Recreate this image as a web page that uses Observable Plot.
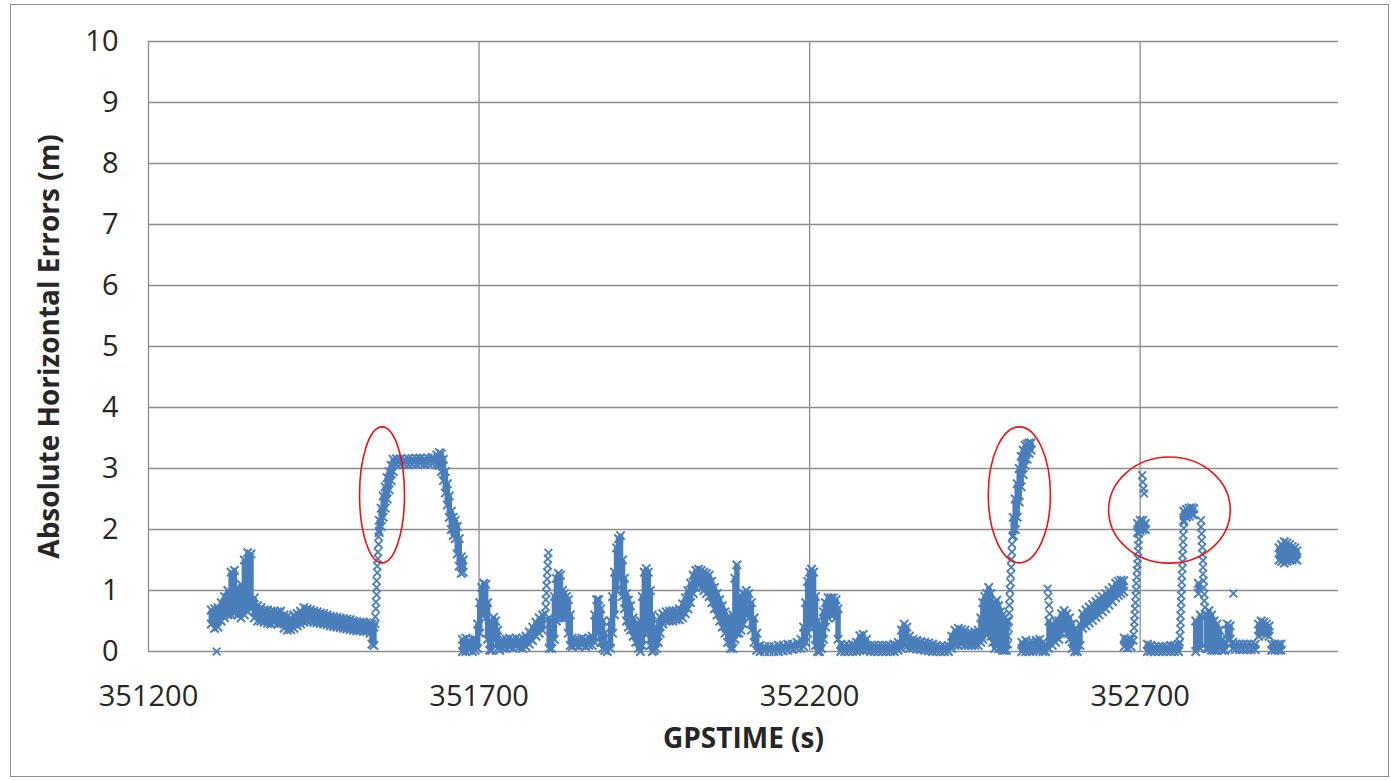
<!DOCTYPE html>
<html>
<head>
<meta charset="utf-8">
<script src="https://cdn.jsdelivr.net/npm/d3@7"></script>
<script src="https://cdn.jsdelivr.net/npm/@observablehq/plot@0.6"></script>
<style>
  html, body { margin: 0; padding: 0; background: #fff; }
  #chart { position: relative; width: 1391px; height: 780px; overflow: hidden; }
  #chart svg { position: absolute; left: 0; top: 0; display: block; }
  #frame { position: absolute; left: 10px; top: 4px; width: 1379px; height: 773px;
           border: 1.5px solid #8c8c8c; box-sizing: border-box; pointer-events: none; }
</style>
</head>
<body>
<div id="chart"><div id="frame"></div></div>
<script>
// Axis ticks
const xTicks = [351200, 351700, 352200, 352700];
const yTicks = [0, 1, 2, 3, 4, 5, 6, 7, 8, 9, 10];
const xTitle = "GPSTIME (s)";
const yTitle = "Absolute Horizontal Errors (m)";

// Dense stretches of the error track: at each GPS epoch, the lowest and
// highest absolute horizontal error (m) of the overlapping markers.
const epochTime = [
  351295, 351300, 351305, 351310, 351315, 351320, 351325, 351330, 351335, 351340,
  351345, 351350, 351355, 351360, 351365, 351370, 351375, 351380, 351385, 351390,
  351395, 351400, 351405, 351410, 351415, 351420, 351425, 351430, 351435, 351440,
  351445, 351450, 351455, 351460, 351465, 351470, 351475, 351480, 351485, 351490,
  351495, 351500, 351505, 351510, 351515, 351520, 351525, 351530, 351535, 351538,
  351541, 351549, 351552, 351555, 351558, 351561, 351564, 351567, 351570, 351575,
  351581, 351587, 351593, 351599, 351605, 351611, 351617, 351623, 351629, 351636,
  351640, 351643, 351646, 351649, 351652, 351655, 351658, 351661, 351664, 351667,
  351670, 351673, 351676, 351675, 351680, 351685, 351690, 351694, 351698, 351701,
  351704, 351707, 351710, 351713, 351716, 351719, 351722, 351725, 351728, 351731,
  351736, 351741, 351746, 351751, 351756, 351761, 351766, 351771, 351776, 351781,
  351786, 351791, 351796, 351806, 351810, 351814, 351817, 351820, 351823, 351826,
  351829, 351832, 351835, 351838, 351841, 351846, 351851, 351856, 351861, 351866,
  351871, 351875, 351878, 351881, 351884, 351887, 351890, 351894, 351899, 351902,
  351905, 351908, 351911, 351914, 351917, 351920, 351923, 351926, 351929, 351933,
  351937, 351941, 351944, 351947, 351950, 351953, 351956, 351959, 351962, 351965,
  351968, 351971, 351974, 351978, 351983, 351988, 351993, 351998, 352003, 352008,
  352012, 352016, 352020, 352024, 352028, 352032, 352036, 352040, 352044, 352048,
  352052, 352056, 352060, 352064, 352068, 352072, 352076, 352080, 352084, 352087,
  352090, 352093, 352096, 352100, 352104, 352108, 352112, 352116, 352120, 352125,
  352132, 352139, 352146, 352153, 352160, 352167, 352174, 352181, 352187, 352191,
  352194, 352197, 352200, 352203, 352206, 352209, 352212, 352215, 352218, 352221,
  352224, 352228, 352232, 352236, 352240, 352243, 352247, 352253, 352259, 352265,
  352271, 352276, 352281, 352286, 352292, 352298, 352304, 352310, 352316, 352322,
  352328, 352334, 352339, 352343, 352347, 352351, 352356, 352362, 352368, 352374,
  352380, 352386, 352392, 352398, 352404, 352410, 352415, 352420, 352425, 352430,
  352435, 352440, 352445, 352450, 352455, 352459, 352462, 352465, 352468, 352471,
  352474, 352477, 352480, 352483, 352486, 352489, 352492, 352495, 352498, 352508,
  352511, 352514, 352517, 352520, 352523, 352526, 352529, 352532, 352535, 352521,
  352527, 352533, 352538, 352543, 352548, 352553, 352557, 352562, 352567, 352572,
  352577, 352581, 352585, 352589, 352593, 352597, 352601, 352605, 352609, 352613,
  352618, 352623, 352628, 352633, 352638, 352643, 352648, 352653, 352658, 352663,
  352667, 352671, 352675, 352676, 352681, 352686, 352696, 352700, 352704, 352708,
  352711, 352716, 352722, 352728, 352734, 352740, 352746, 352752, 352758, 352766,
  352770, 352774, 352778, 352781, 352784, 352788, 352791, 352800, 352804, 352808,
  352812, 352816, 352820, 352824, 352828, 352832, 352836, 352840, 352844, 352850,
  352856, 352862, 352868, 352874, 352879, 352883, 352887, 352891, 352895, 352899,
  352904, 352909, 352913, 352910, 352914, 352918, 352922, 352926, 352930, 352934,
  352937
];
const errorLow = [
  .45, .38, .40, .50, .55, .60, .60, .62, .60, .55,
  .60, .65, .70, .55, .50, .50, .48, .46, .45, .47,
  .45, .46, .38, .35, .36, .38, .42, .45, .48, .50,
  .50, .48, .47, .46, .45, .44, .42, .41, .40, .39,
  .38, .37, .36, .35, .34, .34, .33, .33, .30, .12,
  .10, 1.95, 2.05, 2.20, 2.35, 2.50, 2.65, 2.80, 2.95, 3.06,
  3.07, 3.07, 3.06, 3.07, 3.07, 3.08, 3.07, 3.08, 3.08, 3.06,
  3.05, 2.95, 2.80, 2.60, 2.40, 2.20, 2.00, 1.90, 1.85, 1.60,
  1.40, 1.28, 1.30, 0, 0, .02, 0, .02, .05, .30,
  .60, .80, .55, .20, .02, .02, .20, .25, .05, .02,
  .05, .05, .07, .05, .08, .07, .05, .08, .12, .18,
  .25, .30, .35, .05, .05, .20, .50, .60, .60, .55,
  .55, .55, .30, .10, .08, .10, .08, .10, .08, .10,
  .10, .15, .30, .35, .15, .05, .02, 0, .05, .30,
  .60, 1.00, 1.30, 1.20, .90, .70, .50, .40, .35, .25,
  .15, .05, 0, .10, .30, .50, .30, .10, 0, .02,
  .05, .15, .30, .45, .50, .50, .50, .52, .52, .55,
  .62, .70, .80, .95, 1.05, 1.08, 1.05, 1.00, .95, .90,
  .80, .70, .60, .50, .40, .30, .15, .05, .05, .20,
  .30, .30, .35, .45, .60, .55, .35, .15, .02, 0,
  0, 0, 0, 0, .01, .02, .03, .05, .05, .08,
  .15, .30, .40, .50, .40, .10, 0, 0, .05, .20,
  .40, .55, .60, .60, .55, .20, 0, 0, 0, 0,
  0, .02, .02, .02, 0, 0, 0, 0, 0, 0,
  0, .02, .05, .10, .08, .05, .05, .04, .03, .02,
  .01, 0, 0, 0, 0, 0, .05, .10, .10, .12,
  .10, .10, .10, .10, .10, .15, .20, .30, .35, .30,
  .25, .15, .05, .10, .05, .05, .02, .02, .02, 1.90,
  2.00, 2.20, 2.45, 2.70, 2.90, 3.05, 3.15, 3.25, 3.30, 0,
  0, 0, 0, .02, .02, 0, 0, .05, .10, .15,
  .20, .30, .35, .30, .20, .05, 0, 0, .10, .38,
  .42, .47, .51, .56, .60, .65, .70, .76, .82, .88,
  .92, .95, .98, .08, .06, .08, 1.95, 1.98, 2.00, 2.00,
  0, 0, 0, 0, 0, 0, 0, 0, 0, 2.15,
  2.20, 2.22, 2.25, 2.24, 0, .95, .05, .05, .05, .02,
  .02, .02, .05, .02, .02, .20, .20, .05, .03, .03,
  .03, .03, .03, .03, .25, .30, .30, .28, .25, .02,
  .02, .02, .02, 1.50, 1.48, 1.45, 1.48, 1.50, 1.50, 1.52,
  1.50
];
const errorHigh = [
  .68, .70, .72, .80, .90, 1.00, 1.30, 1.33, 1.05, 1.10,
  1.50, 1.62, 1.60, .88, .75, .72, .68, .68, .66, .66,
  .65, .66, .60, .58, .55, .60, .62, .66, .72, .70,
  .68, .66, .65, .63, .62, .60, .58, .57, .56, .55,
  .54, .53, .52, .50, .49, .48, .48, .47, .47, .45,
  .40, 2.15, 2.35, 2.55, 2.70, 2.85, 2.95, 3.05, 3.15, 3.16,
  3.16, 3.15, 3.16, 3.16, 3.17, 3.17, 3.16, 3.17, 3.18, 3.22,
  3.26, 3.24, 3.15, 2.95, 2.75, 2.55, 2.30, 2.20, 2.15, 2.05,
  1.85, 1.55, 1.50, .20, .22, .18, .20, .20, .45, .80,
  1.05, 1.12, 1.10, .80, .45, .30, .56, .50, .35, .15,
  .20, .20, .22, .20, .22, .20, .22, .25, .32, .40,
  .48, .55, .60, .55, .40, .90, 1.20, 1.28, 1.25, 1.00,
  .95, .90, .85, .60, .22, .20, .20, .22, .20, .22,
  .25, .60, .85, .85, .70, .50, .30, .15, .50, .90,
  1.30, 1.70, 1.85, 1.90, 1.50, 1.20, .95, .84, .75, .55,
  .45, .35, .50, .90, 1.30, 1.36, 1.30, 1.00, .60, .30,
  .35, .45, .56, .62, .65, .66, .67, .67, .70, .78,
  .88, 1.00, 1.12, 1.25, 1.33, 1.35, 1.33, 1.30, 1.28, 1.25,
  1.15, 1.05, .95, .85, .75, .65, .55, .45, .60, 1.20,
  1.42, .90, .60, .95, 1.00, .95, .80, .55, .30, .10,
  .08, .08, .08, .10, .10, .12, .12, .15, .20, .40,
  .80, 1.15, 1.30, 1.35, 1.30, .90, .50, .20, .40, .65,
  .80, .88, .88, .88, .85, .70, .12, .10, .10, .12,
  .15, .26, .28, .20, .10, .10, .10, .10, .10, .10,
  .12, .15, .35, .45, .40, .25, .20, .18, .16, .15,
  .14, .12, .10, .08, .08, .10, .25, .35, .38, .36,
  .35, .30, .30, .32, .35, .55, .80, .90, .95, 1.05,
  .95, .75, .80, .84, .75, .65, .60, .55, .50, 2.20,
  2.50, 2.75, 3.00, 3.20, 3.30, 3.38, 3.40, 3.42, 3.42, .15,
  .18, .15, .15, .18, .20, .15, .12, .50, .45, .50,
  .50, .62, .67, .62, .55, .45, .35, .30, .45, .62,
  .68, .73, .77, .82, .86, .90, .95, 1.00, 1.05, 1.12,
  1.15, 1.17, 1.16, .22, .20, .20, 2.10, 2.15, 2.15, 2.10,
  .12, .10, .08, .08, .08, .08, .10, .10, .12, 2.30,
  2.33, 2.35, 2.36, 2.34, .50, 1.12, .60, .60, .67, .60,
  .50, .45, .35, .20, .15, .45, .42, .15, .12, .12,
  .12, .12, .12, .12, .45, .50, .48, .45, .42, .12,
  .12, .12, .12, 1.70, 1.75, 1.80, 1.78, 1.75, 1.72, 1.70,
  1.65
];

// Isolated markers: fast climbs and drops where single epochs stand apart.
const scatterTime = [
  351303,
  351543, 351543, 351544, 351544, 351545, 351545, 351545, 351546, 351546, 351547, 351547, 351548, 351548, 351549,
  351800, 351801, 351801, 351802, 351802, 351803, 351803, 351804, 351804, 351805,
  352500, 352500, 352501, 352501, 352502, 352502, 352503, 352503, 352504, 352504, 352505, 352505, 352506, 352506, 352507,
  352560, 352561, 352562, 352563,
  352690, 352690, 352691, 352691, 352692, 352692, 352693, 352693, 352694, 352694, 352695, 352695, 352696, 352696, 352697, 352697, 352698, 352698,
  352703, 352704, 352705, 352706,
  352760, 352760, 352761, 352761, 352761, 352762, 352762, 352762, 352763, 352763, 352763, 352764, 352764, 352764, 352765, 352765, 352765, 352766, 352766,
  352792, 352792, 352793, 352793, 352794, 352794, 352795, 352795, 352795, 352796, 352796, 352797, 352797, 352798, 352798,
  352841
];
const scatterError = [
  0.00,
  0.45, 0.57, 0.70, 0.81, 0.93, 1.05, 1.16, 1.29, 1.40, 1.52, 1.63, 1.76, 1.88, 1.98,
  0.62, 0.73, 0.85, 0.96, 1.08, 1.19, 1.30, 1.41, 1.52, 1.62,
  0.12, 0.25, 0.38, 0.50, 0.63, 0.76, 0.88, 1.01, 1.13, 1.26, 1.38, 1.51, 1.63, 1.76, 1.88,
  1.03, 0.90, 0.76, 0.62,
  0.18, 0.28, 0.39, 0.49, 0.60, 0.70, 0.80, 0.91, 1.01, 1.12, 1.22, 1.33, 1.43, 1.53, 1.64, 1.74, 1.84, 1.93,
  2.89, 2.78, 2.67, 2.59,
  0.15, 0.26, 0.37, 0.48, 0.59, 0.70, 0.81, 0.92, 1.03, 1.14, 1.25, 1.36, 1.47, 1.58, 1.69, 1.80, 1.91, 2.02, 2.12,
  2.15, 2.04, 1.93, 1.82, 1.71, 1.60, 1.49, 1.38, 1.27, 1.16, 1.05, 0.94, 0.83, 0.72, 0.61,
  0.95
];

// Red rings highlighting the error jumps: centre (s, m) and half extents (s, m)
const ringTime = [351554, 352518, 352745];
const ringError = [2.56, 2.56, 2.31];
const ringHalfSpan = [34, 47, 92];
const ringHalfRise = [1.115, 1.115, 0.87];

const seriesBlue = "#4A7EBB";
const gridGray = "#8c8c8c";
const ringRed = "#e8141b";
const textColor = "#262626";

const band = epochTime.map((t, i) => ({t, lo: errorLow[i], hi: errorHigh[i]}));
const bandEdges = band.flatMap(d => [{t: d.t, v: d.lo}, {t: d.t, v: d.hi}]);
const loose = scatterTime.map((t, i) => ({t, v: scatterError[i]}));

const chart = Plot.plot({
  width: 1391,
  height: 780,
  marginLeft: 148,
  marginRight: 53,
  marginTop: 41,
  marginBottom: 129,
  style: {
    fontFamily: "'Open Sans', sans-serif",
    fontSize: "29px",
    color: textColor,
    background: "transparent",
    overflow: "visible"
  },
  x: {domain: [351200, 353000], ticks: xTicks, tickSize: 0, tickPadding: 34,
      tickFormat: d => String(d), label: null},
  y: {domain: [0, 10], ticks: yTicks, tickSize: 0, tickPadding: 30,
      tickFormat: d => String(d), label: null},
  marks: [
    Plot.ruleY(yTicks, {stroke: gridGray, strokeWidth: 1.3}),
    Plot.ruleX(xTicks, {stroke: gridGray, strokeWidth: 1.3}),
    Plot.ruleX(band, {x: "t", y1: "lo", y2: "hi", stroke: seriesBlue, strokeWidth: 5.5}),
    Plot.dot(bandEdges, {x: "t", y: "v", symbol: "times", r: 3.9, stroke: seriesBlue, strokeWidth: 2}),
    Plot.dot(loose, {x: "t", y: "v", symbol: "times", r: 3.6, stroke: seriesBlue, strokeWidth: 1.8}),
    Plot.text([yTitle], {text: d => d, frameAnchor: "left", dx: -98, rotate: -90,
      textAnchor: "middle", fontWeight: "bold", fontSize: 28, fill: textColor}),
    Plot.text([xTitle], {text: d => d, frameAnchor: "bottom", dy: 96,
      textAnchor: "middle", fontWeight: "bold", fontSize: 28, fill: textColor})
  ]
});

// Annotation rings, placed through the chart's own scales
const sx = chart.scale("x");
const sy = chart.scale("y");
const rings = d3.select(chart).append("g")
  .attr("fill", "none")
  .attr("stroke", ringRed)
  .attr("stroke-width", 1.6);
ringTime.forEach((t, i) => {
  const cx = sx.apply(t);
  const cy = sy.apply(ringError[i]);
  rings.append("ellipse")
    .attr("cx", cx)
    .attr("cy", cy)
    .attr("rx", Math.abs(sx.apply(t + ringHalfSpan[i]) - cx))
    .attr("ry", Math.abs(sy.apply(ringError[i] + ringHalfRise[i]) - cy));
});

document.getElementById("chart").prepend(chart);
</script>
</body>
</html>
